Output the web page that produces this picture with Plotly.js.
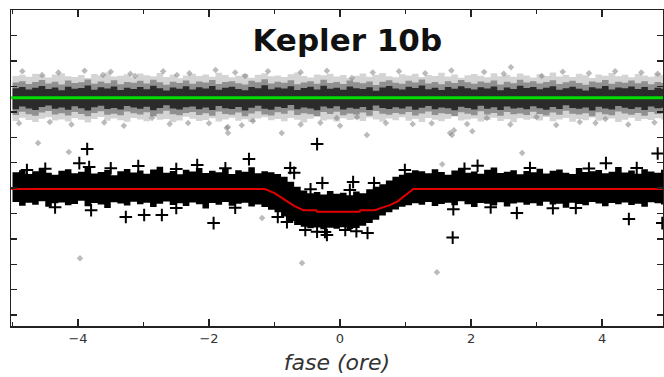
<!DOCTYPE html>
<html><head><meta charset="utf-8">
<script src="https://cdn.plot.ly/plotly-3.0.1.min.js"></script>
<style>html,body{margin:0;padding:0;background:#fff;}#chart{width:664px;height:377px;}</style>
</head><body><div id="chart"></div>
<script>
// ---- phase grid (hours) shared by both clouds ----
const gridX = [-5.0,-4.9,-4.8,-4.7,-4.6,-4.5,-4.4,-4.3,-4.2,-4.1,-4.0,-3.9,-3.8,-3.7,-3.6,-3.5,-3.4,-3.3,-3.2,-3.1,-3.0,-2.9,-2.8,-2.7,-2.6,-2.5,-2.4,-2.3,-2.2,-2.1,-2.0,-1.9,-1.8,-1.7,-1.6,-1.5,-1.4,-1.3,-1.2,-1.1,-1.0,-0.9,-0.8,-0.7,-0.6,-0.5,-0.4,-0.3,-0.2,-0.1,0.0,0.1,0.2,0.3,0.4,0.5,0.6,0.7,0.8,0.9,1.0,1.1,1.2,1.3,1.4,1.5,1.6,1.7,1.8,1.9,2.0,2.1,2.2,2.3,2.4,2.5,2.6,2.7,2.8,2.9,3.0,3.1,3.2,3.3,3.4,3.5,3.6,3.7,3.8,3.9,4.0,4.1,4.2,4.3,4.4,4.5,4.6,4.7,4.8,4.9,5.0];

// upper edge of the black (in-transit) cloud
const bandTop = [0.62,0.70,0.55,0.66,0.78,0.60,0.52,0.68,0.74,0.58,
  0.64,0.80,0.57,0.63,0.71,0.50,0.66,0.75,0.61,0.69,
  0.56,0.73,0.84,0.60,0.67,0.54,0.72,0.65,0.79,0.59,
  0.68,0.62,0.77,0.55,0.70,0.64,0.82,0.58,0.66,
  0.62,0.55,0.45,0.25,0.05,-0.10,-0.20,-0.15,-0.25,-0.12,-0.22,-0.18,-0.28,-0.14,-0.20,-0.05,0.05,0.15,0.30,0.45,0.52,0.60,0.70,
  0.66,0.58,0.74,0.63,0.52,0.69,0.77,0.60,0.65,0.56,
  0.72,0.81,0.59,0.64,0.70,0.54,0.67,0.62,0.76,0.57,
  0.68,0.73,0.60,0.55,0.79,0.63,0.66,0.71,0.58,0.64,
  0.83,0.61,0.69,0.56,0.74,0.65,0.60,0.72,0.67];
// lower edge of the black cloud
const bandBot = [-0.62,-0.55,-0.70,-0.58,-0.66,-0.52,-0.74,-0.60,-0.57,-0.68,
  -0.63,-0.50,-0.72,-0.59,-0.65,-0.78,-0.56,-0.61,-0.69,-0.54,
  -0.64,-0.58,-0.75,-0.62,-0.53,-0.67,-0.60,-0.71,-0.57,-0.64,
  -0.80,-0.59,-0.66,-0.55,-0.70,-0.62,-0.58,-0.73,-0.65,
  -0.75,-0.85,-0.95,-1.12,-1.30,-1.45,-1.52,-1.58,-1.55,-1.62,-1.56,-1.60,-1.54,-1.61,-1.57,-1.48,-1.38,-1.25,-1.08,-0.95,-0.84,-0.74,-0.68,
  -0.60,-0.66,-0.55,-0.71,-0.63,-0.58,-0.68,-0.52,-0.64,-0.75,
  -0.59,-0.62,-0.69,-0.56,-0.73,-0.61,-0.57,-0.66,-0.60,-0.70,
  -0.54,-0.65,-0.62,-0.77,-0.58,-0.63,-0.68,-0.55,-0.61,-0.72,
  -0.59,-0.64,-0.57,-0.67,-0.62,-0.74,-0.56,-0.60,-0.65];

// grey (reference) cloud: outer haze, middle and dense core edges
const hazeTop = [4.41,4.46,4.38,4.50,4.44,4.35,4.47,4.52,4.40,4.37,
  4.45,4.33,4.49,4.43,4.55,4.39,4.42,4.48,4.36,4.51,
  4.44,4.40,4.53,4.37,4.46,4.32,4.43,4.50,4.41,4.47,
  4.38,4.54,4.45,4.36,4.42,4.49,4.34,4.46,4.52,4.40,
  4.43,4.37,4.48,4.55,4.41,4.35,4.47,4.44,4.50,4.39,
  4.45,4.33,4.42,4.51,4.38,4.46,4.53,4.40,4.36,4.48,
  4.43,4.50,4.37,4.45,4.41,4.54,4.39,4.47,4.34,4.44,
  4.49,4.42,4.36,4.52,4.40,4.46,4.38,4.51,4.43,4.35,
  4.48,4.41,4.55,4.39,4.45,4.37,4.50,4.44,4.33,4.47,
  4.42,4.53,4.40,4.46,4.36,4.49,4.43,4.38,4.51,4.45,4.41];
const hazeBot = [2.71,2.64,2.77,2.68,2.60,2.73,2.79,2.66,2.70,2.62,
  2.75,2.69,2.58,2.72,2.80,2.65,2.74,2.67,2.61,2.76,
  2.70,2.63,2.78,2.69,2.72,2.59,2.66,2.81,2.73,2.64,
  2.68,2.75,2.62,2.70,2.77,2.65,2.71,2.60,2.74,2.79,
  2.67,2.72,2.63,2.76,2.69,2.58,2.73,2.80,2.66,2.70,
  2.62,2.75,2.68,2.71,2.64,2.78,2.70,2.61,2.74,2.67,
  2.79,2.65,2.72,2.60,2.76,2.69,2.63,2.73,2.82,2.66,
  2.70,2.74,2.62,2.68,2.77,2.64,2.71,2.59,2.75,2.69,
  2.73,2.66,2.80,2.63,2.70,2.76,2.61,2.72,2.67,2.78,
  2.65,2.71,2.74,2.60,2.69,2.77,2.64,2.72,2.68,2.75,2.70];
const midTop = [4.16,4.21,4.10,4.18,4.25,4.12,4.19,4.08,4.23,4.14,
  4.17,4.27,4.11,4.20,4.13,4.24,4.09,4.18,4.15,4.22,
  4.12,4.26,4.17,4.07,4.19,4.14,4.23,4.11,4.20,4.16,
  4.25,4.10,4.18,4.21,4.13,4.08,4.22,4.17,4.28,4.12,
  4.19,4.15,4.24,4.09,4.16,4.21,4.11,4.26,4.14,4.18,
  4.10,4.23,4.17,4.13,4.20,4.06,4.19,4.24,4.15,4.11,
  4.22,4.16,4.27,4.12,4.18,4.09,4.21,4.14,4.25,4.17,
  4.11,4.20,4.15,4.23,4.08,4.19,4.13,4.26,4.16,4.21,
  4.12,4.18,4.24,4.10,4.17,4.22,4.14,4.07,4.20,4.16,
  4.25,4.11,4.19,4.15,4.23,4.13,4.21,4.09,4.18,4.14,4.17];
const midBot = [2.94,2.88,3.00,2.91,2.85,2.97,3.03,2.90,2.95,2.86,
  2.99,2.92,2.83,2.96,3.02,2.89,2.93,2.87,3.01,2.95,
  2.90,2.98,2.84,2.93,3.04,2.91,2.87,2.96,2.99,2.88,
  2.95,2.85,3.01,2.92,2.89,2.97,2.83,2.94,3.02,2.90,
  2.86,2.98,2.93,3.05,2.88,2.95,2.91,2.84,2.99,2.92,
  3.00,2.87,2.94,2.90,2.97,2.85,3.03,2.93,2.89,2.96,
  2.91,2.99,2.86,2.94,3.01,2.88,2.95,2.92,2.84,2.98,
  2.93,2.87,3.02,2.90,2.96,2.85,2.99,2.91,2.94,2.88,
  3.00,2.92,2.86,2.97,2.89,3.04,2.93,2.90,2.95,2.83,
  2.98,2.91,2.87,3.01,2.94,2.89,2.96,2.85,2.99,2.92,2.94];
const coreTop = [3.93,3.98,3.88,3.95,4.02,3.90,3.96,3.85,3.99,3.91,
  3.94,4.04,3.87,3.97,3.92,4.00,3.86,3.95,3.90,3.98,
  3.89,4.03,3.93,3.84,3.96,3.91,4.01,3.88,3.97,3.92,
  4.02,3.87,3.95,3.99,3.90,3.85,3.98,3.93,4.05,3.89,
  3.96,3.92,4.01,3.86,3.94,3.99,3.88,4.03,3.91,3.95,
  3.87,4.00,3.93,3.90,3.97,3.83,3.96,4.02,3.92,3.88,
  3.99,3.94,4.04,3.89,3.95,3.86,3.98,3.91,4.01,3.93,
  3.88,3.97,3.92,4.00,3.85,3.96,3.90,4.03,3.94,3.98,
  3.89,3.95,4.01,3.87,3.93,3.99,3.91,3.84,3.97,3.92,
  4.02,3.88,3.96,3.93,4.00,3.90,3.98,3.86,3.95,3.91,3.94];
const coreBot = [3.16,3.10,3.21,3.13,3.07,3.19,3.25,3.12,3.17,3.08,
  3.22,3.14,3.05,3.18,3.24,3.11,3.15,3.09,3.23,3.17,
  3.12,3.20,3.06,3.15,3.26,3.13,3.09,3.18,3.21,3.10,
  3.17,3.07,3.23,3.14,3.11,3.19,3.05,3.16,3.24,3.12,
  3.08,3.20,3.15,3.27,3.10,3.17,3.13,3.06,3.21,3.14,
  3.22,3.09,3.16,3.12,3.19,3.07,3.25,3.15,3.11,3.18,
  3.13,3.21,3.08,3.16,3.23,3.10,3.17,3.14,3.06,3.20,
  3.15,3.09,3.24,3.12,3.18,3.07,3.21,3.13,3.16,3.10,
  3.22,3.14,3.08,3.19,3.11,3.26,3.15,3.12,3.17,3.05,
  3.20,3.13,3.09,3.23,3.16,3.11,3.18,3.07,3.21,3.14,3.16];

// ---- individual grey points ----
const greyX = [-4.61,-4.14,-1.73,-1.33,-0.89,0.41,0.70,1.11,2.61,1.68,1.94,2.02,3.66,4.05,3.00,1.56,2.78,-4.43,-2.87,-2.32,-1.71,-1.71,-4.55,-2.49,-3.13,-1.45,-3.62,0.18,3.08,1.74,1.71,2.24,0.26,-0.05,-3.97,-0.58,1.48,-1.19,
  -4.85,-4.30,-3.90,-3.50,-3.20,-2.70,-2.30,-1.90,-1.60,-1.10,-0.60,-0.20,0.50,0.90,1.30,1.70,2.20,2.50,3.40,3.80,4.20,4.60,4.85,
  -4.90,-4.10,-3.60,-3.30,-2.60,-2.00,-1.50,-0.60,-0.30,0.00,1.40,2.60,3.30,3.90,4.40,4.80];
const greyY = [1.77,1.42,2.36,2.64,2.17,2.09,2.56,2.52,4.76,2.17,2.52,2.24,2.60,2.72,2.80,0.94,1.38,2.60,2.76,2.56,2.40,2.17,4.45,4.45,4.41,4.41,4.45,4.33,4.41,2.28,2.09,2.76,2.80,2.76,-2.76,-2.95,-3.31,-1.18,
  4.60,4.55,4.62,4.58,4.50,4.60,4.52,4.65,4.55,4.60,4.56,4.62,4.55,4.60,4.52,4.63,4.57,4.50,4.58,4.52,4.60,4.55,4.50,
  2.55,2.50,2.58,2.45,2.52,2.55,2.47,2.50,2.57,2.45,2.55,2.50,2.48,2.56,2.50,2.58];

// ---- individual black crosses ----
const crossX = [-3.86,-3.98,-3.83,-3.08,-2.18,-4.78,-0.35,-1.39,-0.76,-0.70,-0.27,0.20,0.52,0.99,4.85,4.06,4.53,2.10,-3.80,-3.27,-2.99,-2.72,-1.93,-0.23,-0.95,-0.81,-0.53,-0.20,0.08,0.42,1.73,1.72,2.70,4.41,4.92,3.25,
  -4.50,-3.50,-2.50,-1.75,1.90,2.90,3.80,
  -4.35,-2.50,-1.60,2.30,3.60,
  -0.45,0.15,-0.35,0.25];
const crossY = [1.54,0.98,0.83,0.87,0.91,0.71,1.73,1.14,0.79,0.60,0.20,0.24,0.20,0.71,1.36,0.98,0.79,0.88,-0.87,-1.14,-1.06,-1.06,-1.38,-1.73,-1.14,-1.34,-1.65,-1.85,-1.65,-1.77,-0.83,-1.95,-0.98,-1.22,-1.38,-0.79,
  0.76,0.78,0.75,0.78,0.76,0.79,0.77,
  -0.76,-0.78,-0.77,-0.76,-0.78,
  -0.05,-0.08,-1.72,-1.70];

// ---- fitted transit model (red) and reference level (green) ----
const modelX = [-5.02,-1.145,-1.0,-0.85,-0.7,-0.56,-0.36,-0.35,0.30,0.31,0.53,0.61,0.76,0.87,0.94,1.04,1.12,4.93];
const modelY = [-0.04,-0.04,-0.20,-0.45,-0.70,-0.87,-0.87,-0.93,-0.93,-0.87,-0.87,-0.80,-0.67,-0.54,-0.41,-0.21,-0.04,-0.04];
const refX = [-5.02,4.93];
const refY = [3.555,3.555];

function poly(xs, up, lo, color) {
  return {
    x: xs.concat(xs.slice().reverse()),
    y: up.concat(lo.slice().reverse()),
    type: 'scatter', mode: 'lines', fill: 'toself', fillcolor: color,
    line: {width: 0, shape: 'hv'}, hoverinfo: 'skip', showlegend: false
  };
}

const traces = [
  poly(gridX, hazeTop, hazeBot, 'rgba(0,0,0,0.17)'),
  poly(gridX, midTop, midBot, 'rgba(0,0,0,0.32)'),
  poly(gridX, coreTop, coreBot, 'rgba(0,0,0,0.70)'),
  {x: greyX, y: greyY, type: 'scatter', mode: 'markers', hoverinfo: 'skip', showlegend: false,
   marker: {symbol: 'diamond', size: 5, color: 'rgba(120,120,120,0.5)', line: {width: 0}}},
  poly(gridX, bandTop, bandBot, '#000'),
  {x: crossX, y: crossY, type: 'scatter', mode: 'markers', hoverinfo: 'skip', showlegend: false,
   marker: {symbol: 'cross-thin', size: 9, color: '#000', line: {width: 2, color: '#000'}}},
  {x: refX, y: refY, type: 'scatter', mode: 'lines', hoverinfo: 'skip', showlegend: false,
   line: {color: '#00dd00', width: 3}},
  {x: modelX, y: modelY, type: 'scatter', mode: 'lines', hoverinfo: 'skip', showlegend: false,
   line: {color: '#e00000', width: 2}}
];

const axisCommon = {
  showgrid: false, zeroline: false, showline: true, mirror: 'ticks',
  linecolor: '#222', linewidth: 1.5, ticks: 'inside', tickcolor: '#222', tickwidth: 1.5
};

const layout = {
  width: 664, height: 377,
  margin: {l: 11, r: 1, t: 10, b: 51},
  paper_bgcolor: '#fff', plot_bgcolor: '#fff',
  showlegend: false,
  title: {text: '<b>Kepler 10b</b>', x: 0.523, xref: 'container', xanchor: 'center',
          y: 0.894, yref: 'container', yanchor: 'middle',
          font: {family: 'DejaVu Sans', size: 31, color: '#111'}},
  xaxis: Object.assign({}, axisCommon, {
    range: [-5.023, 4.931], dtick: 2, tick0: 0, ticklen: 7,
    minor: {dtick: 1, tick0: 0, ticks: 'inside', ticklen: 4, tickwidth: 1.5, tickcolor: '#222'},
    tickfont: {family: 'DejaVu Sans', size: 13, color: '#333'},
    title: {text: '<i>fase (ore)</i>', standoff: 9, font: {family: 'DejaVu Sans', size: 22, color: '#333'}}
  }),
  yaxis: Object.assign({}, axisCommon, {
    range: [-5.43, 7.01], dtick: 1, tick0: 0, ticklen: 6, showticklabels: false
  })
};

Plotly.newPlot('chart', traces, layout, {staticPlot: true, displayModeBar: false});
</script>
</body></html>
